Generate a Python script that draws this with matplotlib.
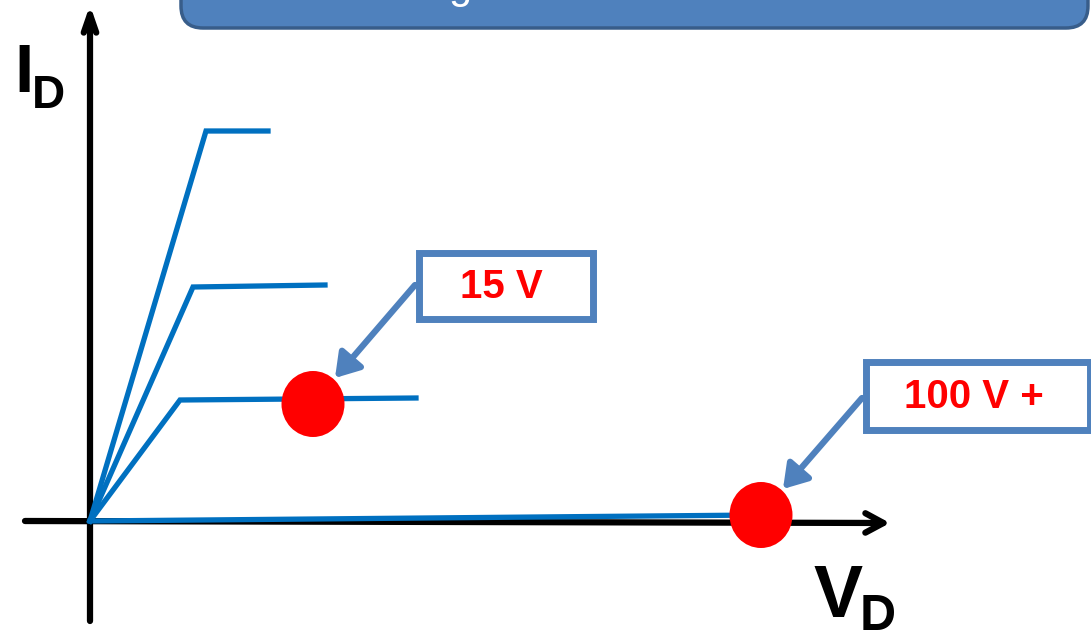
import matplotlib
matplotlib.use("Agg")
import matplotlib.pyplot as plt
from matplotlib.patches import Ellipse, Rectangle, FancyBboxPatch, FancyArrowPatch

# ---- data (diagram units: origin of the I_D / V_D axes at (0, 0)) ----
curve_x = [[0, 116, 178], [0, 103, 235], [0, 90, 326], [0, 670]]
curve_y = [[0, 390, 390], [0, 234, 236], [0, 121, 123], [0, 6]]
dot_x = [223, 671]
dot_y = [117, 6]
labels = ["15 V", "100 V +"]
box_x0 = [325, 772]
box_x1 = [506, 1003]
box_y0 = [199, 88]
box_y1 = [272, 163]
arrow_from = [(325, 236), (772, 123)]

BLUE = "#0070C0"
BOXBLUE = "#4F81BD"
RED = "#FF0000"
FONT = "Liberation Sans"

fig = plt.figure(figsize=(10.91, 6.31), dpi=100)
ax = fig.add_axes([0, 0, 1, 1])
ax.set_xlim(-90, 1001)
ax.set_ylim(-110, 521)
ax.axis("off")

# banner at the top (cut off)
banner = FancyBboxPatch((91, 493), 998 - 91, 60,
                        boxstyle="round,pad=0,rounding_size=22",
                        facecolor=BOXBLUE, edgecolor="#385D8A", linewidth=2.5,
                        zorder=1)
ax.add_patch(banner)
ax.text(370, 523, "g", color="white", fontsize=30, family=FONT,
        ha="center", va="baseline", zorder=2)

# axes arrows
ax.annotate("", xy=(0, 516), xytext=(0, -100),
            arrowprops=dict(arrowstyle="->,head_length=1.3,head_width=0.45",
                            color="black", lw=4.5, shrinkA=0, shrinkB=0),
            zorder=3)
ax.annotate("", xy=(800, -2), xytext=(-65, 0),
            arrowprops=dict(arrowstyle="->,head_length=1.3,head_width=0.7",
                            color="black", lw=4.5, shrinkA=0, shrinkB=0,
                            capstyle="round", joinstyle="round"),
            zorder=3)

# axis labels
ax.text(-76, 429, "I", fontsize=50, fontweight="bold", family=FONT,
        ha="left", va="baseline", color="black")
ax.text(-58, 413, "D", fontsize=33, fontweight="bold", family=FONT,
        ha="left", va="baseline", color="black")
ax.text(724, -96, "V", fontsize=53, fontweight="bold", family=FONT,
        ha="left", va="baseline", color="black")
ax.text(770, -109, "D", fontsize=36, fontweight="bold", family=FONT,
        ha="left", va="baseline", color="black")

# curves
for xs, ys in zip(curve_x, curve_y):
    ax.plot(xs, ys, color=BLUE, lw=3.8, solid_joinstyle="miter", zorder=4)

# red dots
for x, y in zip(dot_x, dot_y):
    ax.add_patch(Ellipse((x, y), 63, 66, facecolor=RED, edgecolor="none", zorder=5))

# callout boxes and arrows
for lab, x0, x1, y0, y1, (ax0, ay0), dx, dy in zip(labels, box_x0, box_x1, box_y0,
                                                    box_y1, arrow_from, dot_x, dot_y):
    ax.add_patch(Rectangle((x0 + 3.5, y0 + 3.5), x1 - x0 - 7, y1 - y0 - 7,
                           facecolor="white", edgecolor=BOXBLUE, linewidth=5,
                           zorder=6))
    ax.text((x0 + x1) / 2 - 4, (y0 + y1) / 2 - 1, lab, color=RED, fontsize=29,
            fontweight="bold", family=FONT, ha="center", va="center", zorder=7)
    tip = (dx + 22, dy + 26)
    ax.add_patch(FancyArrowPatch((ax0, ay0), tip,
                                 arrowstyle="-|>,head_length=14,head_width=9",
                                 mutation_scale=1, color=BOXBLUE, lw=4.5,
                                 shrinkA=0, shrinkB=0, zorder=6))

fig.savefig("out.png", dpi=100)
